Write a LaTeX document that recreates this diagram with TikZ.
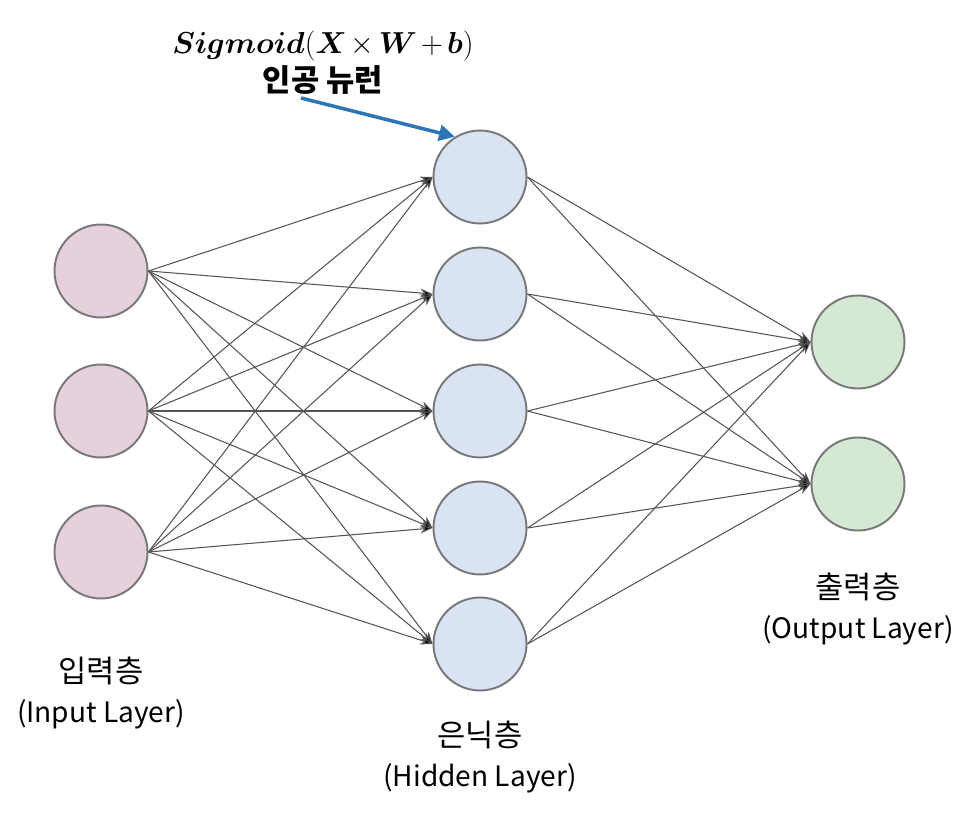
\documentclass[tikz,border=0pt]{standalone}
\usepackage{bm}
\usepackage[no-math]{fontspec}
\setmainfont{Noto Sans CJK KR}
\usetikzlibrary{arrows.meta}
\definecolor{inpink}{RGB}{230,208,222}
\definecolor{hidblue}{RGB}{218,227,243}
\definecolor{outgreen}{RGB}{213,232,212}
\definecolor{ringgray}{RGB}{120,120,120}
\definecolor{edgegray}{RGB}{85,85,85}
\definecolor{arrowblue}{RGB}{46,117,182}
\newcommand{\sigformula}{{\medmuskip=2.5mu$\bm{S}\bm{i}\bm{g}\bm{m}\bm{o}\bm{i}\bm{d}(\bm{X}\times\bm{W}+\bm{b})$}}
\newcommand{\krbig}{\fontsize{17.5}{23}\selectfont}
\tikzset{
  neuron/.style={circle,draw=ringgray,line width=1.1pt,minimum size=1.86cm,inner sep=0pt},
  innode/.style={neuron,fill=inpink},
  hidnode/.style={neuron,fill=hidblue},
  outnode/.style={neuron,fill=outgreen},
  conn/.style={draw=edgegray,line width=0.6pt,-{Stealth[length=7pt,width=5pt,fill=black]}},
  layerlabel/.style={align=center,font=\fontsize{16}{23}\selectfont,inner sep=0pt},
  eqlabel/.style={inner sep=0pt,font=\fontsize{16.5}{20}\selectfont},
  krtitle/.style={inner sep=0pt,font=\fontsize{17.5}{20}\selectfont\bfseries},
  callout/.style={draw=arrowblue,line width=2pt,-{Triangle[length=9pt,width=9pt]}}
}
\begin{document}
\begin{tikzpicture}[x=0.02cm,y=-0.02cm]
\useasboundingbox (0,0) rectangle (968,820);
% input layer
\node[innode] (i1) at (101,271) {};
\node[innode] (i2) at (101,411) {};
\node[innode] (i3) at (101,552) {};
% hidden layer
\node[hidnode] (h1) at (480,177) {};
\node[hidnode] (h2) at (480,294) {};
\node[hidnode] (h3) at (480,411) {};
\node[hidnode] (h4) at (480,528) {};
\node[hidnode] (h5) at (480,644) {};
% output layer
\node[outnode] (o1) at (858,342) {};
\node[outnode] (o2) at (858,484) {};
% connections
\foreach \i in {1,2,3}{
  \foreach \h in {1,...,5}{
    \draw[conn] (i\i.east) -- (h\h.west);
  }
}
\foreach \h in {1,...,5}{
  \foreach \o in {1,2}{
    \draw[conn] (h\h.east) -- (o\o.west);
  }
}
% labels
\node[layerlabel] (li) at (101,693) {{\krbig 입력층}\\(Input Layer)};
\node[layerlabel] (lh) at (480,757) {{\krbig 은닉층}\\(Hidden Layer)};
\node[layerlabel] (lo) at (858,609) {{\krbig 출력층}\\(Output Layer)};
% title
\node[eqlabel] (eq) at (323,46) {\sigformula};
\node[krtitle] (kr) at (323,80) {인공 뉴런};
\coordinate (cstart) at (301,98);
\draw[callout] (cstart) -- (h1.122);
\end{tikzpicture}
\end{document}
